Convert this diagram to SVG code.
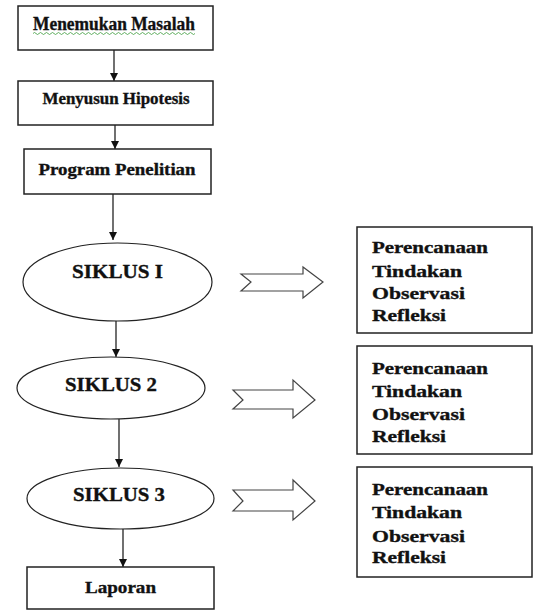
<svg xmlns="http://www.w3.org/2000/svg" width="533" height="611" viewBox="0 0 533 611">
<defs>
<style>
.box{fill:#fff;stroke:#222;stroke-width:1.5}
.ell{fill:#fff;stroke:#222;stroke-width:1.2}
.t{font-family:"Liberation Serif","Times New Roman",serif;font-weight:bold;fill:#111;stroke:#111;stroke-width:0.35}
.c{text-anchor:middle}
.con{stroke:#111;stroke-width:1.2;fill:none;marker-end:url(#ah)}
.blk{fill:#fff;stroke:#444;stroke-width:1.2;stroke-linejoin:miter}
</style>
<marker id="ah" viewBox="0 0 10 10" refX="10" refY="5" markerWidth="8" markerHeight="9" markerUnits="userSpaceOnUse" orient="auto">
<path d="M0,0 L10,5 L0,10 Z" fill="#111"/>
</marker>
</defs>
<rect width="533" height="611" fill="#fff"/>
<g id="connectors">
<line class="con" x1="114" y1="50" x2="114" y2="81"/>
<line class="con" x1="115" y1="125" x2="115" y2="149"/>
<line class="con" x1="113" y1="194" x2="113" y2="240"/>
<line class="con" x1="116" y1="321" x2="116" y2="357"/>
<line class="con" x1="119" y1="419" x2="119" y2="467"/>
<line class="con" x1="123" y1="529" x2="123" y2="567"/>
<path class="blk" d="M241,274 L303,274 L303,267 L323,282 L303,298 L303,291 L241,291 L251,282 Z"/>
<path class="blk" d="M233,390 L293,390 L293,380 L315,400 L293,418 L293,409 L233,409 L243,400 Z"/>
<path class="blk" d="M233,490 L293,490 L293,480 L315,501 L293,520 L293,511 L233,511 L243,501 Z"/>
</g>
<g id="n1">
<rect class="box" x="18" y="6" width="195" height="44"/>
<text class="t c" x="114" y="30" font-size="18" textLength="162" lengthAdjust="spacingAndGlyphs">Menemukan Masalah</text>
<path d="M33,33.5 q1.5,-2 3,0 t3,0 t3,0 t3,0 t3,0 t3,0 t3,0 t3,0 t3,0 t3,0 t3,0 t3,0 t3,0 t3,0 t3,0 t3,0 t3,0 t3,0 t3,0 t3,0 t3,0 t3,0 t3,0 t3,0 t3,0 t3,0 t3,0 t3,0 t3,0 t3,0 t3,0 t3,0 t3,0 t3,0 t3,0 t3,0 t3,0 t3,0 t3,0 t3,0 t3,0 t3,0 t3,0 t3,0 t3,0 t3,0 t3,0 t3,0 t3,0 t3,0 t3,0 t3,0 t3,0 t3,0" fill="none" stroke="#3a9a3a" stroke-width="0.8"/>
</g>
<g id="n2">
<rect class="box" x="18" y="81" width="195" height="44"/>
<text class="t c" x="116" y="104" font-size="17" textLength="147" lengthAdjust="spacingAndGlyphs">Menyusun Hipotesis</text>
</g>
<g id="n3">
<rect class="box" x="24" y="149" width="187" height="45"/>
<text class="t c" x="117" y="175" font-size="17" textLength="157" lengthAdjust="spacingAndGlyphs">Program Penelitian</text>
</g>
<g id="s1">
<ellipse class="ell" cx="117.5" cy="282" rx="94.5" ry="39"/>
<text class="t c" x="117.5" y="278" font-size="19" textLength="91" lengthAdjust="spacingAndGlyphs">SIKLUS I</text>
</g>
<g id="s2">
<ellipse class="ell" cx="111" cy="388" rx="94" ry="31"/>
<text class="t c" x="111" y="391" font-size="19" textLength="92" lengthAdjust="spacingAndGlyphs">SIKLUS 2</text>
</g>
<g id="s3">
<ellipse class="ell" cx="120.5" cy="498.5" rx="93.5" ry="30.5"/>
<text class="t c" x="119" y="501" font-size="19" textLength="92" lengthAdjust="spacingAndGlyphs">SIKLUS 3</text>
</g>
<g id="n4">
<rect class="box" x="27" y="567" width="187" height="42"/>
<text class="t c" x="120.5" y="593" font-size="17" textLength="71" lengthAdjust="spacingAndGlyphs">Laporan</text>
</g>
<g id="r1">
<rect class="box" x="357" y="227" width="175" height="106"/>
<text class="t" font-size="17"><tspan x="372" y="253" textLength="116" lengthAdjust="spacingAndGlyphs">Perencanaan</tspan><tspan x="372" y="277" textLength="90" lengthAdjust="spacingAndGlyphs">Tindakan</tspan><tspan x="372" y="299" textLength="93" lengthAdjust="spacingAndGlyphs">Observasi</tspan><tspan x="372" y="321" textLength="74" lengthAdjust="spacingAndGlyphs">Refleksi</tspan></text>
</g>
<g id="r2">
<rect class="box" x="357" y="346" width="175" height="108"/>
<text class="t" font-size="17"><tspan x="372" y="374" textLength="116" lengthAdjust="spacingAndGlyphs">Perencanaan</tspan><tspan x="372" y="397" textLength="90" lengthAdjust="spacingAndGlyphs">Tindakan</tspan><tspan x="372" y="420" textLength="93" lengthAdjust="spacingAndGlyphs">Observasi</tspan><tspan x="372" y="442" textLength="74" lengthAdjust="spacingAndGlyphs">Refleksi</tspan></text>
</g>
<g id="r3">
<rect class="box" x="357" y="467" width="175" height="110"/>
<text class="t" font-size="17"><tspan x="372" y="495" textLength="116" lengthAdjust="spacingAndGlyphs">Perencanaan</tspan><tspan x="372" y="518" textLength="90" lengthAdjust="spacingAndGlyphs">Tindakan</tspan><tspan x="372" y="542" textLength="93" lengthAdjust="spacingAndGlyphs">Observasi</tspan><tspan x="372" y="563" textLength="74" lengthAdjust="spacingAndGlyphs">Refleksi</tspan></text>
</g>
</svg>
